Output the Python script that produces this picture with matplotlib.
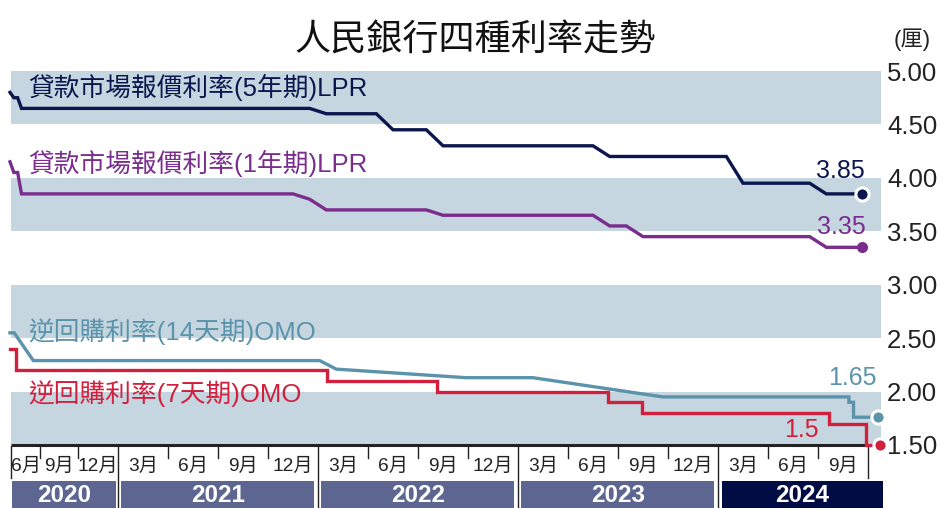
#!/usr/bin/env python3
"""PBOC four policy rates, 2020-2024."""

import matplotlib

matplotlib.use("Agg")

import matplotlib.pyplot as plt
import matplotlib.transforms as mtransforms
import numpy as np
from matplotlib.patches import Rectangle

# ---- data -------------------------------------------------------------
# LPR: monthly fixings (only the months where the line turns)
LPR5_DATES = ["2020-01", "2020-02", "2020-03", "2020-04", "2021-12", "2022-01",
              "2022-04", "2022-05", "2022-07", "2022-08", "2023-05", "2023-06",
              "2024-01", "2024-02", "2024-06", "2024-07", "2024-09-20"]
LPR5_VALUES = [4.80, 4.75, 4.75, 4.65, 4.65, 4.60, 4.60, 4.45, 4.45, 4.30,
               4.30, 4.20, 4.20, 3.95, 3.95, 3.85, 3.85]

LPR1_DATES = ["2020-01", "2020-02", "2020-03", "2020-04", "2021-11", "2021-12",
              "2022-01", "2022-07", "2022-08", "2023-05", "2023-06", "2023-07",
              "2023-08", "2024-06", "2024-07", "2024-09-20"]
LPR1_VALUES = [4.15, 4.05, 4.05, 3.85, 3.85, 3.80, 3.70, 3.70, 3.65, 3.65,
               3.55, 3.55, 3.45, 3.45, 3.35, 3.35]

OMO14_DATES = ["2020-01-16", "2020-02-19", "2020-06-04", "2022-01-04", "2022-02-04",
               "2022-09-28", "2023-01-28", "2023-09-22", "2024-08-27", "2024-08-27",
               "2024-09-05", "2024-09-05", "2024-10-19"]
OMO14_VALUES = [2.55, 2.55, 2.29, 2.29, 2.21, 2.13, 2.13, 1.95, 1.95, 1.90,
                1.90, 1.76, 1.76]

# 7-day OMO: step changes
OMO7_DATES = ["2020-01-16", "2020-03-01", "2022-01-17", "2022-08-05", "2023-06-13",
              "2023-08-15", "2024-07-22", "2024-09-27", "2024-10-23"]
OMO7_VALUES = [2.40, 2.20, 2.10, 2.00, 1.90, 1.80, 1.70, 1.50, 1.50]

SERIES_LABELS = ["貸款市場報價利率(5年期)LPR", "貸款市場報價利率(1年期)LPR",
                 "逆回購利率(14天期)OMO", "逆回購利率(7天期)OMO"]
END_LABELS = ["3.85", "3.35", "1.65", "1.5"]

Y_TICKS = [5.00, 4.50, 4.00, 3.50, 3.00, 2.50, 2.00, 1.50]
QUARTER_TICKS = [6, 9] + list(range(12, 58, 3))   # months since Jan 2020
MONTH_LABELS = ["6月", "9月", "12月"] + ["3月", "6月", "9月", "12月"] * 3 + ["3月", "6月", "9月"]
YEARS = ["2020", "2021", "2022", "2023", "2024"]

# ---- style ------------------------------------------------------------
NAVY = "#0b164e"
PURPLE = "#7a2d8c"
TEAL = "#5b93ab"
RED = "#d11f3d"
BAND = "#c5d6e0"
YEAR_BAR = "#5c6690"
YEAR_BAR_LAST = "#000d45"
INK = "#222222"
FONT = ["Liberation Sans", "Noto Sans CJK TC"]

W, H = 942, 508

# the 2020 part of the time axis is squeezed in the original graphic
KNOT_M = [-12.0, 0.5, 3.5, 6.0, 9.0, 12.0, 72.0]
KNOT_PX = [-37.5, 10.0, 21.5, 40.0, 78.0, 118.0, 1118.0]


def fwd(m):
    return np.interp(m, KNOT_M, KNOT_PX)


def inv(p):
    return np.interp(p, KNOT_PX, KNOT_M)


def mpos(s):
    parts = [int(p) for p in s.split("-")]
    if len(parts) == 2:
        return (parts[0] - 2020) * 12 + parts[1] - 1 + 0.5
    return (parts[0] - 2020) * 12 + parts[1] - 1 + (parts[2] - 1) / 30.5


def fy(px):
    return 1 - px / H


def main():
    plt.rcParams["font.family"] = FONT
    fig = plt.figure(figsize=(W / 100, H / 100), dpi=100)
    ax = fig.add_axes([11 / W, (H - 445) / H, 870 / W, 374 / H])
    ax.set_xscale("function", functions=(fwd, inv))
    x0, x1 = float(inv(11)), float(inv(881))
    ax.set_xlim(x0, x1)
    ax.set_ylim(1.5, 5.0)
    for s in ax.spines.values():
        s.set_visible(False)

    for lo in [4.5, 3.5, 2.5, 1.5]:
        ax.axhspan(lo, lo + 0.5, color=BAND, lw=0, zorder=0)

    ax.plot([x0, mpos("2024-10-01")], [1.5, 1.5], color=INK, lw=2.2,
            solid_capstyle="butt", zorder=2, clip_on=False)

    series = [
        (LPR5_DATES, LPR5_VALUES, NAVY, "default", True),
        (LPR1_DATES, LPR1_VALUES, PURPLE, "default", False),
        (OMO14_DATES, OMO14_VALUES, TEAL, "default", True),
        (OMO7_DATES, OMO7_VALUES, RED, "steps-post", True),
    ]
    for dates, vals, color, ds, ring in series:
        xs = [mpos(d) for d in dates]
        ax.plot(xs, vals, color=color, lw=2.4, drawstyle=ds, zorder=3,
                clip_on=False, solid_joinstyle="miter")
        ax.plot(xs[-1], vals[-1], "o", ms=9.5 if ring else 8, color=color,
                mec="white", mew=2.2 if ring else 0, zorder=4, clip_on=False)

    # end-value labels (offsets in pixels from the end dot)
    offsets = [(3, 23), (4, 20), (-1, 39), (-61, 15)]
    colors = [NAVY, PURPLE, TEAL, RED]
    for (dates, vals, *_), text, off, c in zip(series, END_LABELS, offsets, colors):
        ax.annotate(text, (mpos(dates[-1]), vals[-1]), xytext=off,
                    textcoords="offset pixels", ha="right", va="center",
                    fontsize=18, color=c, zorder=5)

    # series names
    name_y = [87, 163, 332, 394]
    for text, y, c in zip(SERIES_LABELS, name_y, colors):
        fig.text(28 / W, fy(y), text, fontsize=18.5, color=c, ha="left", va="center")

    # right-hand axis labels
    ax.yaxis.tick_right()
    ax.set_yticks(Y_TICKS)
    ax.set_yticklabels([f"{v:.2f}" for v in Y_TICKS], fontsize=18.5, color=INK)
    ax.tick_params(axis="y", length=0, pad=4.3)
    ax.set_xticks([])

    # time axis below the plot
    trans = mtransforms.blended_transform_factory(ax.transData, fig.transFigure)
    for m in QUARTER_TICKS:
        if m in (12, 24, 36, 48):
            y_end = 508
        elif m == 57:
            y_end = 478
        else:
            y_end = 458
        ax.plot([m, m], [fy(446), fy(y_end)], transform=trans, color=INK,
                lw=1.0, clip_on=False)
    ax.plot([x0, x0], [fy(446), fy(478)], transform=trans, color=INK, lw=1.0, clip_on=False)

    bounds = [x0] + QUARTER_TICKS
    for i, lab in enumerate(MONTH_LABELS):
        mid = float(inv((fwd(bounds[i]) + fwd(bounds[i + 1])) / 2))
        ax.text(mid, fy(466), lab, transform=trans, ha="center", va="center",
                fontsize=13.8, color=INK)

    starts = [x0, 12, 24, 36, 48]
    ends = [12, 24, 36, 48, float(inv(883))]
    for i, (yr, a, b) in enumerate(zip(YEARS, starts, ends)):
        pa = fwd(a) + (1 if i == 0 else 3.5)
        pb = fwd(b) - (2 if i == 0 else 3.5)
        if i == len(YEARS) - 1:
            pb = fwd(b)
        a2, b2 = float(inv(pa)), float(inv(pb))
        rect = Rectangle((a2, fy(508)), b2 - a2, fy(481) - fy(508), transform=trans,
                         color=YEAR_BAR_LAST if i == len(YEARS) - 1 else YEAR_BAR,
                         lw=0, clip_on=False)
        ax.add_patch(rect)
        ax.text(float(inv((pa + pb) / 2)), fy(495), yr, transform=trans, ha="center",
                va="center", fontsize=17.5, fontweight="bold", color="white")

    fig.text(475 / W, fy(41), "人民銀行四種利率走勢", fontsize=26, ha="center",
             va="center", color="#111111", fontweight="medium")
    fig.text(912 / W, fy(40), "(厘)", fontsize=16, ha="center", va="center", color=INK)

    fig.savefig("out.png", dpi=100)


if __name__ == "__main__":
    main()
